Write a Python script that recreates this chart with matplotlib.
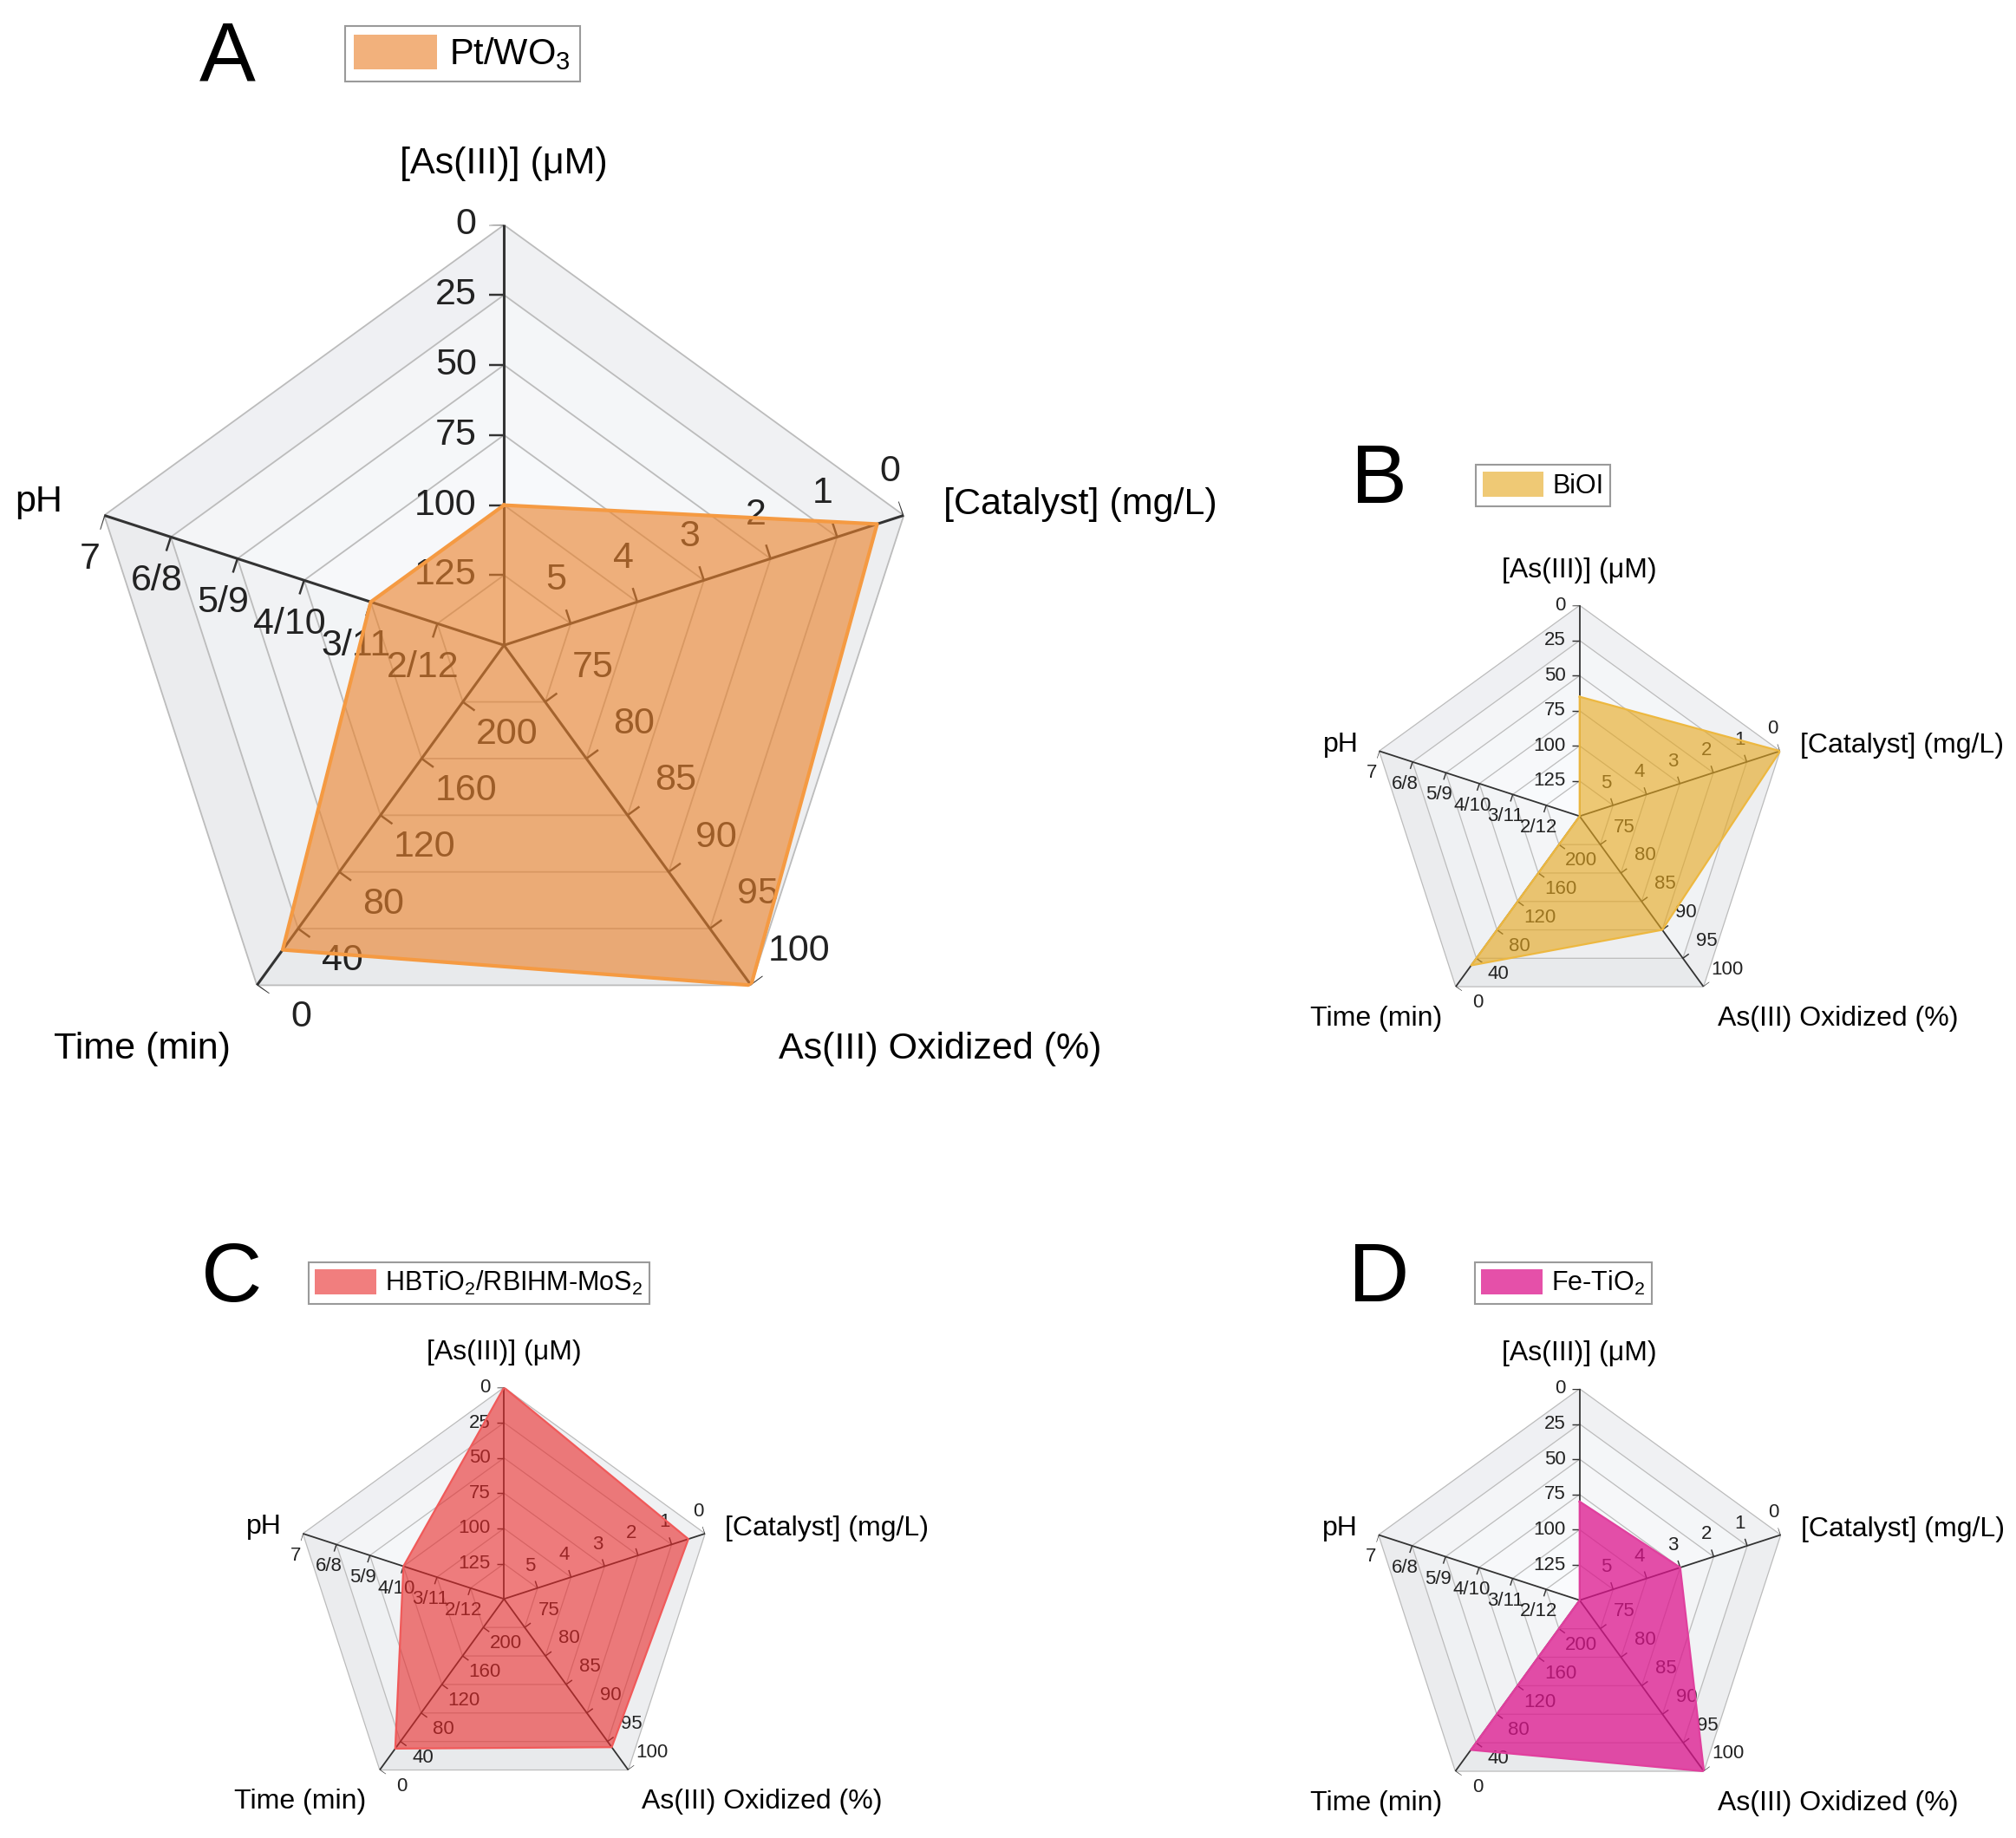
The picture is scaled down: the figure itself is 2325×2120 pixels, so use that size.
import numpy as np
import matplotlib
matplotlib.use('Agg')
import matplotlib.pyplot as plt
from matplotlib.patches import Patch

plt.rcParams['font.family'] = ['Liberation Sans', 'DejaVu Sans']
plt.rcParams['mathtext.fontset'] = 'custom'
plt.rcParams['mathtext.rm'] = 'Liberation Sans'
plt.rcParams['mathtext.it'] = 'Liberation Sans:italic'

# radar axes, clockwise from the top
axis_titles = ['[As(III)] (μM)', '[Catalyst] (mg/L)', 'As(III) Oxidized (%)',
               'Time (min)', 'pH']
as_ticks = ['0', '25', '50', '75', '100', '125']
cat_ticks = ['0', '1', '2', '3', '4', '5']
ox_ticks = ['100', '95', '90', '85', '80', '75']
time_ticks = ['0', '40', '80', '120', '160', '200']
ph_ticks = ['7', '6/8', '5/9', '4/10', '3/11', '2/12']

# one entry per panel
panels = ['A', 'B', 'C', 'D']
catalysts = ['Pt/WO$_3$', 'BiOI', 'HBTiO$_2$/RBIHM-MoS$_2$', 'Fe-TiO$_2$']
as_conc = [100, 65, 0, 80]        # uM
cat_dose = [0.4, 0.0, 0.5, 3.0]   # mg/L
oxidized = [100, 90, 96, 100]     # %
time_min = [25, 30, 30, 30]       # min
ph = [3, np.nan, 4, np.nan]       # nan = not reported (drawn at centre)

faces = ['#EA822C', '#E6A820', '#E82828', '#DD158D']
alphas = [0.62, 0.62, 0.6, 0.75]
edges = ['#F59A42', '#EDB840', '#F05A5A', '#E0409E']


def to_radius(a, c, o, t, p):
    """map the five quantities onto 0..1 radii (outer ring = best)"""
    r_ph = 0.0 if np.isnan(p) else (6 - abs(p - 7)) / 6
    return [(150 - a) / 150, (6 - c) / 6, (o - 70) / 30, (240 - t) / 240, r_ph]


W, H = 1568.0, 1430.0   # layout grid of the reference
# centre x, centre y (from top), radius
layout = [(392, 502, 327), (1228.6, 635, 164), (392, 1244, 164.5), (1228.6, 1245, 164.5)]
letter_pos = [(0.113, 0.968), (0.684, 0.738), (0.115, 0.304), (0.684, 0.304)]
legend_pos = [(0.171, 0.986), (0.732, 0.747), (0.153, 0.313), (0.7315, 0.313)]

thetas = np.deg2rad(np.arange(5) * 72.0)
closed = np.append(thetas, thetas[0])


def put(ax, x, y, s, **kw):
    ax.text(np.arctan2(x, y), np.hypot(x, y), s, clip_on=False, **kw)


def line(ax, p0, p1, **kw):
    ax.plot([np.arctan2(p0[0], p0[1]), np.arctan2(p1[0], p1[1])],
            [np.hypot(*p0), np.hypot(*p1)], solid_capstyle='butt', **kw)


fig = plt.figure(figsize=(23.25, 21.2), dpi=100)

for i in range(4):
    cx, cy, R = layout[i]
    big = i == 0
    ax = fig.add_axes([(cx - R) / W, 1 - (cy + R) / H, 2 * R / W, 2 * R / H],
                      projection='polar')
    ax.set_theta_zero_location('N')
    ax.set_theta_direction(-1)
    ax.set_ylim(0, 1)
    ax.axis('off')

    tick_fs = 31 if big else 16
    title_fs = 31 if big else 23
    lw_ax = 2.2 if big else 1.3
    lw_grid = 1.3 if big else 0.9

    # shaded background bands (darker towards the rim and the bottom)
    sector_shift = [0.0, -0.012, -0.03, -0.02, -0.003]
    for s in range(5):
        t0, t1 = thetas[s], thetas[s] + np.deg2rad(72)
        for k in range(6):
            g = 0.99 - 0.006 * k + sector_shift[s] - (0.012 if k == 5 else 0)
            col = (max(g - 0.008, 0), g - 0.002, min(g + 0.006, 1))
            ax.fill([t0, t0, t1, t1], [k / 6, (k + 1) / 6, (k + 1) / 6, k / 6],
                    color=col, lw=0, zorder=0.5)
    for k in range(1, 7):
        ax.plot(closed, [k / 6] * 6, color='#bcbcbc', lw=lw_grid, zorder=1)

    # axes, ticks, tick labels
    tick_sets = [as_ticks, cat_ticks, ox_ticks, time_ticks, ph_ticks]
    offsets = [0.0, 0.11, 0.14, 0.13, 0.11]
    for j, th in enumerate(thetas):
        d = np.array([np.sin(th), np.cos(th)])
        n = np.array([-np.cos(th), np.sin(th)])
        ax.plot([th, th], [0, 1], color='#333333', lw=lw_ax, zorder=2)
        for k, lab in enumerate(tick_sets[j]):
            p = (1 - k / 6) * d
            line(ax, p, p + 0.035 * n, color='#333333', lw=lw_ax * 0.8, zorder=2)
            if j == 0:
                q = p + np.array([-0.065, 0])
                put(ax, q[0], q[1], lab, ha='right', va='center',
                    fontsize=tick_fs, color='#222222', zorder=2)
            else:
                q = p + offsets[j] * n
                put(ax, q[0], q[1], lab, ha='center', va='center',
                    fontsize=tick_fs, color='#222222', zorder=2)

    # data polygon
    r = to_radius(as_conc[i], cat_dose[i], oxidized[i], time_min[i], ph[i])
    r = np.append(r, r[0])
    ax.fill(closed, r, facecolor=faces[i], alpha=alphas[i], lw=0, zorder=3)
    ax.plot(closed, r, color=edges[i], lw=3.0 if big else 1.6, zorder=4)

    # axis titles
    put(ax, 0, 1.105, axis_titles[0], ha='center', va='bottom', fontsize=title_fs)
    put(ax, 1.045, 0.335, axis_titles[1], ha='left', va='center', fontsize=title_fs)
    put(ax, 0.653, -0.96, axis_titles[2], ha='left', va='center', fontsize=title_fs)
    put(ax, -0.65, -0.96, axis_titles[3], ha='right', va='center', fontsize=title_fs)
    put(ax, -1.05, 0.34, axis_titles[4], ha='right', va='center', fontsize=title_fs)

    leg = ax.legend(handles=[Patch(facecolor=faces[i], alpha=alphas[i],
                                   edgecolor='none', label=catalysts[i])],
                    loc='upper left', bbox_to_anchor=legend_pos[i],
                    bbox_transform=fig.transFigure, fancybox=False,
                    edgecolor='#9a9a9a', framealpha=1,
                    fontsize=30 if big else 22, handlelength=2.3,
                    handleheight=1.1, borderpad=0.25, handletextpad=0.35,
                    borderaxespad=0)
    leg.get_frame().set_linewidth(1.5)

    fig.text(letter_pos[i][0], letter_pos[i][1], panels[i], fontsize=70,
             ha='center', va='center')

fig.savefig('out.png', dpi=100)
